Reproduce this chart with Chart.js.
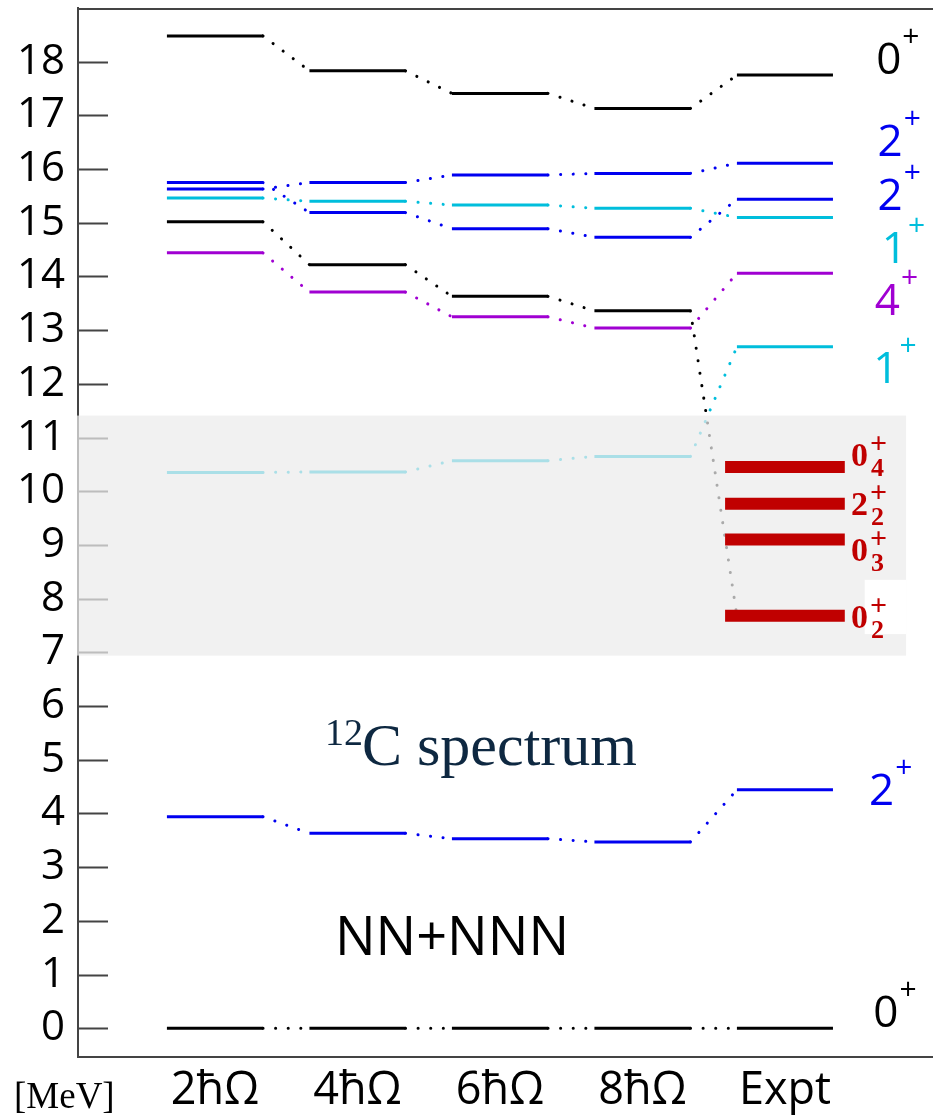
<!DOCTYPE html>
<html>
<head>
<meta charset="utf-8">
<title>12C spectrum</title>
<script src="https://cdn.jsdelivr.net/npm/chart.js@4.4.1/dist/chart.umd.min.js"></script>
<style>
  html, body { margin: 0; padding: 0; background: #fff; }
  #wrap { width: 933px; height: 1118px; position: relative; }
</style>
</head>
<body>
<div id="wrap"><canvas id="spectrum"></canvas></div>
<script>
// model spaces along x, energies (MeV) along y
const columns = ['2ħΩ', '4ħΩ', '6ħΩ', '8ħΩ', 'Expt'];
const energyTicks = [0, 1, 2, 3, 4, 5, 6, 7, 8, 9, 10, 11, 12, 13, 14, 15, 16, 17, 18];

// one array per state, one value per column
const levelGround = [0, 0, 0, 0, 0];
const level2First = [3.94, 3.63, 3.53, 3.47, 4.44];
const level1First = [10.35, 10.36, 10.57, 10.65, 12.69];
const level4First = [14.44, 13.71, 13.25, 13.04, 14.06];
const level0Second = [15.02, 14.22, 13.63, 13.36, 7.68]; // ends on the Hoyle state
const level1Second = [15.46, 15.40, 15.33, 15.27, 15.10];
const level2Second = [15.63, 15.75, 15.89, 15.92, 16.11];
const level2Third = [15.75, 15.19, 14.89, 14.73, 15.44];
const level0Third = [18.48, 17.83, 17.41, 17.13, 17.75];

// experimental cluster states
const clusterEnergies = [10.45, 9.77, 9.10, 7.68];
const clusterSpins = ['0', '2', '0', '0'];
const clusterIndices = ['4', '2', '3', '2'];

// spin labels on the right-hand side
const spinLabels = ['0', '2', '2', '1', '4', '1', '2', '0'];

const BLACK = '#000000';
const BLUE = '#0000f0';
const CYAN = '#00bedc';
const PURPLE = '#a000d2';
const RED = '#c00000';

const HALF = 0.337;      // half width of a level line, in column units
const CLUSTER_HALF = 0.42;

const spinStyle = [
  { e: 18.06, color: BLACK, dx: 4.64 },
  { e: 16.54, color: BLUE, dx: 4.65 },
  { e: 15.53, color: BLUE, dx: 4.65 },
  { e: 14.54, color: CYAN, dx: 4.68 },
  { e: 13.58, color: PURPLE, dx: 4.63 },
  { e: 12.31, color: CYAN, dx: 4.62 },
  { e: 4.46, color: BLUE, dx: 4.59 },
  { e: 0.32, color: BLACK, dx: 4.62 }
];
const clusterLabelE = [10.70, 9.79, 8.93, 7.68];

function levelPoints(values, openEnd) {
  const pts = [];
  values.forEach((e, i) => {
    pts.push({ x: i - HALF, y: e });
    if (!(openEnd && i === values.length - 1)) pts.push({ x: i + HALF, y: e });
  });
  return pts;
}

const series = [
  { values: level0Third, color: BLACK },
  { values: level2Second, color: BLUE },
  { values: level2Third, color: BLUE },
  { values: level1Second, color: CYAN },
  { values: level0Second, color: BLACK, openEnd: true },
  { values: level4First, color: PURPLE },
  { values: level1First, color: CYAN },
  { values: level2First, color: BLUE },
  { values: levelGround, color: BLACK }
];

const datasets = series.map(s => ({
  data: levelPoints(s.values, s.openEnd),
  borderColor: s.color,
  borderWidth: 3,
  borderCapStyle: 'butt',
  pointRadius: 0,
  order: 1,
  // even segments are the level lines, odd ones the dotted connectors
  segment: {
    borderDash: ctx => ctx.p0DataIndex % 2 === 1 ? [0.1, 12.5] : undefined,
    borderCapStyle: ctx => ctx.p0DataIndex % 2 === 1 ? 'round' : undefined
  }
}));

const clusterPts = [];
clusterEnergies.forEach(e => {
  clusterPts.push({ x: 4 - CLUSTER_HALF, y: e }, { x: 4 + CLUSTER_HALF, y: e }, { x: 4, y: null });
});
datasets.push({
  cluster: true,
  data: clusterPts,
  borderColor: RED,
  borderWidth: 12,
  borderCapStyle: 'butt',
  pointRadius: 0,
  spanGaps: false,
  order: 0
});

const levelDecor = {
  id: 'levelDecor',
  beforeDatasetsDraw(chart) {
    const { ctx, chartArea: a, scales: { y } } = chart;
    ctx.save();
    ctx.strokeStyle = '#444';
    ctx.lineWidth = 2;
    ctx.beginPath();
    ctx.moveTo(a.left, a.top + 1);
    ctx.lineTo(a.right, a.top + 1);
    energyTicks.forEach(t => {
      const py = Math.round(y.getPixelForValue(t)) + 0.5;
      ctx.moveTo(a.left, py);
      ctx.lineTo(a.left + 30, py);
    });
    ctx.stroke();
    ctx.restore();
  },
  beforeDatasetDraw(chart, args) {
    if (!chart.data.datasets[args.index].cluster) return;
    // pale panel behind the cluster states
    const { ctx, chartArea: a, scales: { x, y } } = chart;
    ctx.save();
    ctx.fillStyle = 'rgba(236,236,236,0.72)';
    const top = y.getPixelForValue(11.41);
    const bot = y.getPixelForValue(6.94);
    const right = x.getPixelForValue(4.85);
    ctx.fillRect(a.left - 1, top, right - a.left + 1, bot - top);
    ctx.fillStyle = '#fff';
    const pTop = y.getPixelForValue(8.35);
    const pBot = y.getPixelForValue(7.34);
    const pLeft = x.getPixelForValue(4.56);
    ctx.fillRect(pLeft, pTop, right - pLeft, pBot - pTop);
    ctx.restore();
  },
  afterDraw(chart) {
    const { ctx, chartArea: a, scales: { x, y } } = chart;
    ctx.save();
    ctx.textAlign = 'left';
    ctx.textBaseline = 'alphabetic';

    // J^pi labels
    spinLabels.forEach((s, i) => {
      const st = spinStyle[i];
      const cy = y.getPixelForValue(st.e);
      const px = x.getPixelForValue(st.dx);
      ctx.fillStyle = st.color;
      ctx.font = '44px "Open Sans"';
      ctx.fillText(s, px, cy + 16);
      const w = ctx.measureText(s).width;
      ctx.font = '30px "Open Sans"';
      ctx.fillText('+', px + w + 1, cy - 12);
    });

    // cluster state labels
    ctx.fillStyle = RED;
    clusterSpins.forEach((s, i) => {
      const cy = y.getPixelForValue(clusterLabelE[i]);
      const px = x.getPixelForValue(4) + 66;
      ctx.font = 'bold 34px "Liberation Serif"';
      ctx.fillText(s, px, cy + 12);
      const w = ctx.measureText(s).width;
      ctx.font = 'bold 26px "Liberation Serif"';
      ctx.fillText(clusterIndices[i], px + w + 3, cy + 22);
      ctx.font = 'bold 30px "Liberation Serif"';
      ctx.fillText('+', px + w + 2, cy - 1);
    });

    // title inside the plot
    ctx.fillStyle = '#0e2841';
    ctx.font = '38px "Liberation Serif"';
    ctx.fillText('12', x.getPixelForValue(0.772), y.getPixelForValue(5.28));
    ctx.font = '60px "Liberation Serif"';
    ctx.fillText('C spectrum', x.getPixelForValue(1.032), y.getPixelForValue(4.905));

    ctx.fillStyle = '#000';
    ctx.font = '54px "Open Sans"';
    ctx.fillText('NN+NNN', x.getPixelForValue(0.842), y.getPixelForValue(1.37));

    // unit below the y axis
    ctx.font = '37px "Liberation Serif"';
    ctx.fillText('[MeV]', 14, a.bottom + 51);
    ctx.restore();
  }
};

Chart.defaults.font.family = '"Open Sans", sans-serif';
Chart.defaults.color = '#000';

new Chart(document.getElementById('spectrum'), {
  type: 'line',
  data: { datasets },
  plugins: [levelDecor],
  options: {
    responsive: true,
    maintainAspectRatio: false,
    animation: false,
    layout: { padding: { top: 8, right: 0, left: 0, bottom: 0 } },
    plugins: { legend: { display: false }, tooltip: { enabled: false } },
    scales: {
      x: {
        type: 'linear',
        min: -0.961,
        max: 5.039,
        afterFit: scale => {
          scale.height = 61;
          scale.paddingLeft = 0;
          scale.paddingRight = 0;
        },
        afterBuildTicks: scale => { scale.ticks = columns.map((c, i) => ({ value: i })); },
        grid: { drawOnChartArea: false, drawTicks: false },
        border: { display: true, color: '#444', width: 2 },
        ticks: {
          padding: 7,
          maxRotation: 0,
          autoSkip: false,
          font: { size: 45 },
          color: '#000',
          callback: v => columns[v] ?? ''
        }
      },
      y: {
        type: 'linear',
        min: -0.535,
        max: 19.0,
        afterFit: scale => {
          scale.width = 78;
          scale.paddingTop = 0;
          scale.paddingBottom = 0;
        },
        afterBuildTicks: scale => { scale.ticks = energyTicks.map(v => ({ value: v })); },
        grid: { drawOnChartArea: false, drawTicks: false },
        border: { display: true, color: '#444', width: 2 },
        ticks: {
          padding: 13,
          autoSkip: false,
          font: { size: 42 },
          color: '#000',
          callback: v => String(v)
        }
      }
    }
  }
});
</script>
</body>
</html>
